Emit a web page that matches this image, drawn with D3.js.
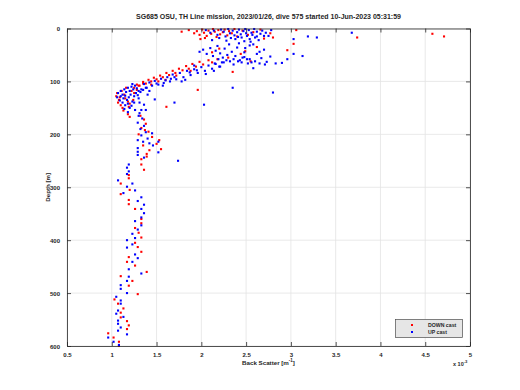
<!DOCTYPE html>
<html><head><meta charset="utf-8">
<script src="https://cdn.jsdelivr.net/npm/d3@7"></script>
<style>body{margin:0;background:#fff}svg{display:block}text{font-family:"Liberation Sans",Arial,sans-serif;fill:#262626}</style>
</head><body><svg id="c" width="520" height="390"></svg>
<script>
const titleText = "SG685 OSU, TH Line mission, 2023/01/26, dive 575 started 10-Jun-2023 05:31:59";
const xTicks = [0.5,1,1.5,2,2.5,3,3.5,4,4.5,5];
const xTickLabels = ["0.5","1","1.5","2","2.5","3","3.5","4","4.5","5"];
const yTicks = [0,100,200,300,400,500,600];
const seriesNames = ["DOWN cast","UP cast"];
// [back scatter (x1e-3 m^-1), depth (m)]
const downCast = [
[1.78,6],[1.86,3],[1.92,9],[1.95,5],[1.98,12],[2.01,2],[2.03,8],[2.06,14],[2.08,4],[2.11,10],[2.13,1],[2.15,6],[2.17,16],[2.19,3],[2.21,11],[2.24,7],[2.26,2],[2.29,13],[2.31,5],[2.34,9],[2.37,1],[2.40,15],[2.46,4],[2.52,12],[2.58,7],[2.66,2],[2.70,19],[2.77,9],[2.80,17],[3.06,3],[3.74,17],[4.58,10],[4.71,15],[2.04,18],[1.99,20],
[2.49,43],[2.96,41],[3.03,29],[2.62,35],[2.44,48],[2.20,38],[2.30,55],[2.12,45],[2.55,62],
[2.18,58],[2.12,64],[2.08,60],[2.02,68],[1.98,63],[1.94,72],[1.90,67],[1.86,76],[1.83,71],[1.79,79],[1.75,76],[1.71,84],[1.68,80],[1.64,88],[1.61,84],[1.57,92],[1.54,89],[1.50,96],[1.47,93],[1.44,100],[1.41,97],[1.38,104],[1.35,101],[1.31,108],[1.28,106],[1.25,112],[2.35,82],[1.96,116],[1.88,80],[1.72,89],[1.60,97],[1.52,100],[1.44,106],
[1.05,128],[1.08,135],[1.10,145],[1.07,140],[1.12,150],[1.15,132],[1.18,138],[1.20,142],[1.14,125],[1.22,118],[1.25,122],[1.11,118],[1.16,112],[1.28,116],[1.09,130],[1.13,155],[1.19,148],[1.24,135],[1.30,108],[1.35,104],[1.61,148],[1.20,167],[1.18,162],[1.06,122],
[1.36,172],[1.38,180],[1.33,188],[1.41,195],[1.30,200],[1.53,211],[1.45,205],[1.35,221],[1.55,228],[1.39,237],[1.39,242],[1.33,247],[1.50,218],[1.42,230],[1.37,192],[1.32,165],
[1.33,257],[1.36,267],[1.19,277],[1.19,283],[1.10,293],[1.20,305],[1.10,313],[1.19,324],[1.19,332],[1.26,341],[1.33,360],[1.33,368],[1.26,377],[1.30,386],[1.33,395],[1.26,405],[1.29,413],[1.33,422],[1.19,432],[1.17,441],[1.26,448],[1.39,460],[1.10,468],[1.23,477],[1.19,486],[1.29,502],[1.03,512],[1.07,520],[1.13,529],[1.10,537],[1.10,546],[1.17,553],[1.19,561],[1.17,568],[0.96,576],[1.02,584],[1.08,592],[1.08,600]
];
const upCast = [
[2.05,3],[2.10,8],[2.14,4],[2.18,12],[2.22,2],[2.25,6],[2.27,15],[2.30,1],[2.32,9],[2.35,4],[2.37,13],[2.38,20],[2.40,7],[2.42,2],[2.44,11],[2.45,17],[2.47,5],[2.48,24],[2.50,9],[2.51,14],[2.53,3],[2.54,20],[2.56,8],[2.57,12],[2.59,1],[2.60,17],[2.62,6],[2.64,22],[2.66,10],[2.68,4],[2.70,14],[2.72,8],[2.75,14],[2.78,3],[2.62,15],[2.49,1],[2.41,16],[2.33,18],[2.28,23],[2.55,25],[3.19,15],[3.29,17],[3.03,20],[3.68,8],[2.20,18],[2.12,22],
[1.98,44],[2.02,40],[2.06,48],[2.10,37],[2.13,52],[2.16,42],[2.18,33],[2.21,47],[2.24,55],[2.26,38],[2.29,50],[2.31,30],[2.34,44],[2.36,58],[2.38,52],[2.40,36],[2.43,60],[2.46,55],[2.48,54],[2.49,37],[2.51,58],[2.54,58],[2.56,64],[2.58,75],[2.60,62],[2.65,66],[2.65,44],[2.67,56],[2.71,68],[2.73,63],[2.77,53],[2.83,66],[2.90,65],[2.96,58],[3.03,48],[3.13,52],[2.52,66],[2.45,64],[2.41,62],[2.36,68],[2.32,62],[2.28,60],[2.23,64],[2.19,58],[2.15,66],[2.42,28],[2.58,30],[2.70,40],[2.62,48],[2.54,32],[2.48,45],[2.20,72],
[2.25,64],[2.21,72],[2.16,67],[2.12,76],[2.08,70],[2.04,80],[2.00,73],[1.96,84],[1.92,77],[1.88,88],[1.84,80],[1.80,92],[1.76,84],[1.72,96],[1.68,87],[1.65,100],[1.62,92],[1.58,103],[1.55,95],[1.52,106],[1.48,99],[1.45,108],[1.42,102],[1.39,112],[1.36,105],[1.33,115],[1.82,97],[1.70,92],[1.60,98],[1.50,104],[1.95,79],[2.05,86],[2.35,112],[2.03,144],[2.80,121],[1.78,100],[1.92,70],[1.57,108],[1.66,95],[1.87,83],[2.14,80],
[1.07,122],[1.10,118],[1.12,125],[1.14,115],[1.16,120],[1.18,112],[1.20,118],[1.22,110],[1.24,115],[1.26,108],[1.28,113],[1.30,118],[1.10,128],[1.13,132],[1.15,127],[1.17,135],[1.19,130],[1.21,125],[1.23,138],[1.25,128],[1.27,122],[1.29,126],[1.32,120],[1.12,140],[1.15,145],[1.18,142],[1.20,150],[1.22,146],[1.25,140],[1.09,136],[1.14,152],[1.26,154],[1.30,132],[1.35,116],[1.38,112],[1.42,118],[1.48,134],[1.70,140],[1.38,154],[1.33,154],[1.40,125],[1.18,158],[1.06,130],[1.23,105],[1.31,140],[1.36,144],
[1.30,165],[1.34,170],[1.29,178],[1.36,184],[1.32,190],[1.38,196],[1.33,202],[1.40,208],[1.29,211],[1.35,214],[1.52,214],[1.42,217],[1.46,221],[1.29,226],[1.29,233],[1.52,234],[1.29,239],[1.36,244],[1.74,250],[1.45,198],[1.31,160],
[1.19,257],[1.17,263],[1.19,270],[1.17,275],[1.07,287],[1.23,293],[1.17,299],[1.26,306],[1.13,311],[1.33,319],[1.29,326],[1.36,333],[1.33,341],[1.36,349],[1.33,357],[1.26,364],[1.33,372],[1.29,380],[1.23,388],[1.26,396],[1.17,400],[1.23,408],[1.17,414],[1.26,427],[1.29,434],[1.23,441],[1.19,455],[1.33,463],[1.19,469],[1.17,477],[1.10,485],[1.10,492],[1.17,500],[1.05,507],[1.10,514],[1.10,520],[1.07,533],[1.05,539],[1.13,545],[1.07,552],[1.07,558],[1.10,565],[1.07,571],[1.17,578],[0.96,584],[1.02,592],[1.08,598]
];
const colors = ["#ff0000","#0000ff"];

const svg = d3.select("#c");
const L=67, R=470, T=28.5, B=346;
const x = d3.scaleLinear().domain([0.5,5]).range([L,R]);
const y = d3.scaleLinear().domain([0,600]).range([T,B]);
const axisCol="#262626";

// grid
const g = svg.append("g");
g.selectAll(".gx").data(xTicks).join("line").attr("x1",d=>x(d)).attr("x2",d=>x(d)).attr("y1",T).attr("y2",B).attr("stroke","#e3e3e3").attr("stroke-width",0.8);
g.selectAll(".gy").data(yTicks).join("line").attr("x1",L).attr("x2",R).attr("y1",d=>y(d)).attr("y2",d=>y(d)).attr("stroke","#e3e3e3").attr("stroke-width",0.8);

// data
const sq=2.1;
[downCast, upCast].forEach((arr,i)=>{
  svg.append("g").selectAll("rect").data(arr).join("rect")
    .attr("x",d=>x(d[0])-sq/2).attr("y",d=>y(d[1])-sq/2).attr("width",sq).attr("height",sq)
    .attr("fill",colors[i]);
});

// axes
const tl=4;
const xb = svg.append("g").attr("transform",`translate(0,${B})`).call(d3.axisBottom(x).tickValues(xTicks).tickFormat((d,i)=>xTickLabels[i]).tickSizeInner(-tl).tickSizeOuter(0).tickPadding(7));
const xt = svg.append("g").attr("transform",`translate(0,${T})`).call(d3.axisTop(x).tickValues(xTicks).tickFormat("").tickSizeInner(-tl).tickSizeOuter(0));
const yl = svg.append("g").attr("transform",`translate(${L},0)`).call(d3.axisLeft(y).tickValues(yTicks).tickSizeInner(-tl).tickSizeOuter(0).tickPadding(7));
const yr = svg.append("g").attr("transform",`translate(${R},0)`).call(d3.axisRight(y).tickValues(yTicks).tickFormat("").tickSizeInner(-tl).tickSizeOuter(0));
[xb,xt,yl,yr].forEach(a=>{
  a.selectAll("path").attr("stroke",axisCol).attr("stroke-width",0.8);
  a.selectAll("line").attr("stroke",axisCol).attr("stroke-width",0.8);
  a.selectAll("text").attr("font-size",6).attr("fill",axisCol).attr("font-weight","bold").style("font-family","Liberation Sans, Arial, sans-serif");
});
yl.selectAll("text").attr("dy","0.35em");

// title & labels
svg.append("text").attr("x",(L+R)/2).attr("y",18.5).attr("text-anchor","middle").attr("font-size",7).attr("font-weight","bold").text(titleText);
const xl = svg.append("text").attr("x",(L+R)/2).attr("y",364.5).attr("text-anchor","middle").attr("font-size",6.2).attr("font-weight","bold");
xl.append("tspan").text("Back Scatter [m");
xl.append("tspan").attr("dy",-2.5).attr("font-size",4.5).text("-1");
xl.append("tspan").attr("dy",2.5).text("]");
svg.append("text").attr("transform",`translate(50,${(T+B)/2}) rotate(-90)`).attr("text-anchor","middle").attr("font-size",6.2).attr("font-weight","bold").text("Depth [m]");
const ex = svg.append("text").attr("x",453).attr("y",366).attr("font-size",5.5).attr("font-weight","bold");
ex.append("tspan").text("x 10");
ex.append("tspan").attr("dy",-3).attr("font-size",4.2).text("-3");

// legend
const lg = svg.append("g");
lg.append("rect").attr("x",395.5).attr("y",319.5).attr("width",67).attr("height",18).attr("fill","#e6e6e6").attr("stroke","#4d4d4d").attr("stroke-width",0.7);
seriesNames.forEach((n,i)=>{
  const yy = 325 + i*7;
  lg.append("rect").attr("x",412-1).attr("y",yy-1).attr("width",2).attr("height",2).attr("fill",colors[i]);
  lg.append("text").attr("x",428).attr("y",yy).attr("dy","0.35em").attr("font-size",5.2).attr("font-weight","bold").text(n);
});
</script></body></html>
